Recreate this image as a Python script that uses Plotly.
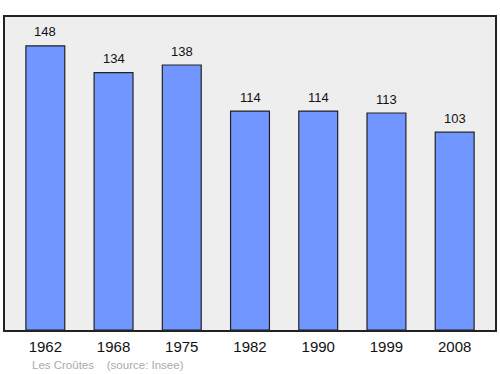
import plotly.graph_objects as go

years = ["1962", "1968", "1975", "1982", "1990", "1999", "2008"]
population = [148, 134, 138, 114, 114, 113, 103]

fig = go.Figure()
fig.add_trace(go.Bar(
    x=list(range(len(years))), y=population, width=0.57,
    marker=dict(color="#7196ff", line=dict(color="#222222", width=1.2)),
    hoverinfo="skip",
))

for i, v in enumerate(population):
    fig.add_annotation(x=i, y=v, text=str(v), showarrow=False, yshift=14,
                       font=dict(family="Liberation Sans, Arial, sans-serif", size=13, color="#111111"))

fig.add_annotation(xref="paper", yref="paper", x=0.05, y=-0.113, xanchor="left", yanchor="middle",
                   text="Les Croûtes&nbsp;&nbsp;&nbsp;&nbsp;(source: Insee)", showarrow=False,
                   font=dict(family="Liberation Sans, Arial, sans-serif", size=11.5, color="#aaaaaa"))

fig.update_layout(
    width=500, height=374,
    margin=dict(l=5, r=3, t=17, b=44),
    paper_bgcolor="white", plot_bgcolor="#eeeeee",
    showlegend=False,
    xaxis=dict(range=[-0.591, 6.591], tickmode="array", tickvals=list(range(len(years))), ticktext=years,
               showgrid=False, zeroline=False, showline=True, linecolor="#222222", linewidth=1.5, mirror=True,
               ticks="outside", ticklen=2, tickcolor="rgba(0,0,0,0)",
               tickfont=dict(family="Liberation Sans, Arial, sans-serif", size=15, color="#111111")),
    yaxis=dict(range=[0, 163], showticklabels=False, showgrid=False, zeroline=False, showline=True,
               linecolor="#222222", linewidth=1.5, mirror=True, ticks=""),
)

fig.write_html("out.html")
